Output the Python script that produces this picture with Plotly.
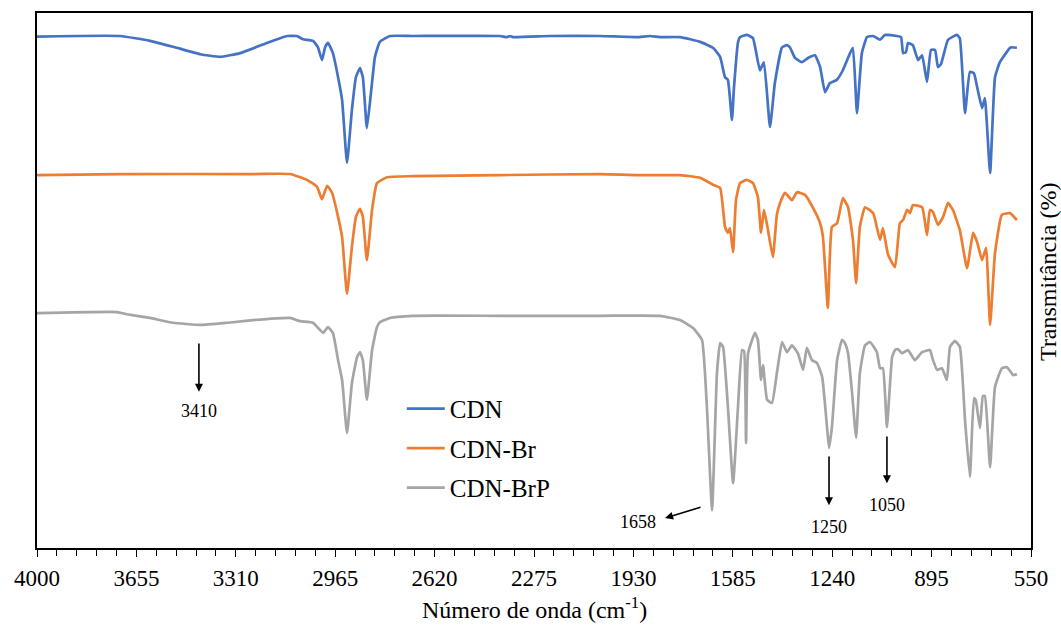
import plotly.graph_objects as go

# ---------------- data ----------------
series_names = ["CDN", "CDN-Br", "CDN-BrP"]
series_colors = ["#4472C4", "#ED7D31", "#A5A5A5"]

cdn_wn = [4000, 3712, 3608, 3528, 3434, 3365, 3295, 3202, 3132, 3098, 3077, 3042, 3025, 3011, 3000,
          2990, 2973, 2955, 2941, 2924, 2907, 2893, 2879, 2869, 2855, 2841, 2827, 2810, 2775, 2695,
          2393, 2369, 2358, 2348, 2219, 2046, 1918, 1872, 1838, 1768, 1698, 1654, 1629, 1612, 1602,
          1588, 1581, 1567, 1560, 1536, 1515, 1491, 1477, 1456, 1439, 1414, 1397, 1387, 1369, 1345,
          1324, 1300, 1282, 1265, 1248, 1224, 1203, 1178, 1168, 1154, 1137, 1119, 1098, 1074, 1057,
          1015, 1001, 994, 984, 977, 960, 942, 928, 911, 897, 883, 873, 862, 838, 807,
          797, 779, 762, 748, 737, 720, 710, 692, 675, 658, 623, 616, 599]
cdn_t = [95.6, 95.7, 94.8, 93.7, 92.3, 91.8, 92.5, 94.4, 95.7, 95.7, 95.1, 94.8, 93.6, 91.2, 93.6,
         94.4, 92.5, 88.0, 83.7, 72.0, 81.9, 88.0, 89.7, 88.0, 78.5, 85.0, 91.8, 94.6, 95.7, 95.7,
         95.7, 95.5, 95.7, 95.5, 95.7, 95.7, 95.5, 95.7, 95.5, 95.5, 94.6, 93.5, 91.8, 88.0, 87.5,
         80.0, 86.0, 94.5, 95.5, 95.9, 95.3, 89.3, 90.8, 78.7, 86.9, 93.6, 94.0, 93.6, 91.6, 90.8,
         91.6, 92.1, 89.9, 85.2, 86.9, 87.5, 89.3, 92.5, 93.5, 81.3, 92.5, 95.5, 95.7, 95.0, 95.9,
         95.7, 95.5, 92.5, 92.7, 94.4, 94.0, 91.2, 92.1, 87.1, 93.1, 93.1, 89.9, 90.5, 95.0, 95.9,
         95.3, 81.3, 89.0, 88.7, 86.2, 82.2, 84.1, 70.1, 88.0, 90.8, 93.5, 93.6, 93.5]

cdnbr_wn = [4000, 3712, 3250, 3122, 3063, 3028, 3011, 2993, 2976, 2955, 2941, 2924, 2907, 2893, 2879,
            2869, 2855, 2837, 2820, 2785, 2695, 2393, 2046, 1918, 1838, 1768, 1698, 1654, 1629, 1612,
            1602, 1595, 1584, 1574, 1560, 1536, 1515, 1498, 1487, 1477, 1466, 1446, 1432, 1421, 1404,
            1380, 1362, 1334, 1307, 1282, 1272, 1255, 1241, 1223, 1203, 1185, 1168, 1157, 1144, 1126,
            1098, 1074, 1064, 1046, 1022, 1005, 994, 980, 970, 960, 928, 911, 901, 890, 873,
            855, 838, 821, 797, 772, 751, 737, 720, 706, 692, 675, 651, 623, 616, 599]
cdnbr_t = [69.7, 69.9, 69.9, 69.9, 68.8, 67.5, 65.2, 67.7, 66.4, 61.9, 58.1, 47.5, 56.3, 61.9, 63.4,
           61.9, 53.8, 63.2, 68.2, 69.3, 69.5, 69.7, 69.9, 69.7, 69.7, 69.7, 69.2, 67.9, 67.3, 60.0,
           58.9, 59.8, 55.3, 65.0, 68.2, 68.8, 68.2, 65.6, 58.9, 63.2, 60.4, 54.4, 62.3, 64.5, 66.4,
           65.0, 66.5, 66.0, 63.6, 60.7, 58.1, 44.9, 60.0, 60.7, 65.4, 63.7, 57.6, 49.5, 60.0, 63.7,
           62.6, 57.6, 59.8, 54.8, 52.5, 60.7, 61.3, 63.2, 62.6, 64.1, 63.7, 58.5, 63.2, 62.8, 60.4,
           61.9, 64.5, 63.2, 59.4, 52.3, 58.9, 57.2, 53.8, 56.1, 41.7, 55.1, 62.3, 62.6, 62.3, 61.3]

cdnbrp_wn = [4000, 3722, 3688, 3608, 3528, 3434, 3341, 3250, 3122, 3087, 3042, 3007, 2990, 2973, 2955,
             2941, 2924, 2907, 2889, 2879, 2869, 2855, 2837, 2820, 2810, 2775, 2695, 2393, 2046, 1838,
             1768, 1723, 1692, 1675, 1657, 1640, 1629, 1619, 1602, 1584, 1567, 1553, 1546, 1539, 1532,
             1508, 1498, 1487, 1480, 1466, 1449, 1432, 1414, 1397, 1380, 1359, 1341, 1328, 1310, 1293,
             1275, 1258, 1251, 1241, 1223, 1206, 1196, 1185, 1171, 1157, 1144, 1126, 1109, 1085, 1074,
             1064, 1050, 1032, 1022, 1012, 998, 977, 953, 928, 901, 890, 876, 859, 842, 831,
             814, 797, 779, 762, 748, 742, 727, 717, 710, 692, 675, 651, 633, 612, 599]
cdnbrp_t = [43.9, 44.1, 43.7, 43.0, 42.1, 41.7, 42.1, 42.6, 43.0, 42.4, 42.1, 40.2, 41.3, 40.2, 35.1,
            31.4, 21.5, 30.8, 35.7, 36.6, 35.1, 27.7, 37.0, 41.3, 42.2, 43.0, 43.4, 43.4, 43.4, 43.4,
            42.6, 41.1, 38.9, 26.4, 7.1, 32.7, 38.3, 37.6, 26.4, 12.1, 26.4, 37.0, 36.8, 19.6, 36.4,
            40.2, 38.9, 31.4, 34.2, 27.7, 27.1, 32.7, 38.5, 36.6, 37.9, 36.4, 33.3, 37.4, 35.1, 34.6,
            32.0, 22.6, 18.7, 22.6, 35.1, 38.9, 38.3, 36.4, 29.0, 20.6, 32.7, 37.9, 38.5, 36.6, 33.6,
            33.6, 22.6, 35.7, 37.0, 37.2, 36.4, 37.0, 35.1, 36.6, 37.0, 35.1, 33.3, 33.6, 31.4, 37.6,
            38.7, 37.6, 23.9, 13.3, 28.0, 27.7, 22.4, 28.4, 28.4, 15.1, 30.1, 33.6, 33.8, 32.3, 32.5]

tick_vals = [4000, 3655, 3310, 2965, 2620, 2275, 1930, 1585, 1240, 895, 550]
tick_text = [str(v) for v in tick_vals]

# peak labels with arrow tail / head and label positions (wavenumber, transmittance)
peak_labels = ["3410", "1658", "1250", "1050"]
arrow_tail_wn = [3438, 1692, 1251, 1050]
arrow_tail_t = [38.5, 7.7, 17.4, 21.1]
arrow_head_wn = [3438, 1820, 1251, 1050]
arrow_head_t = [29.2, 5.6, 8.0, 12.1]
label_wn = [3438, 1914, 1251, 1050]
label_t = [25.6, 4.9, 3.9, 8.0]

SERIF = "Liberation Serif, Times New Roman, serif"

fig = go.Figure()
all_wn = [cdn_wn, cdnbr_wn, cdnbrp_wn]
all_t = [cdn_t, cdnbr_t, cdnbrp_t]
for i, name in enumerate(series_names):
    fig.add_trace(go.Scatter(
        x=all_wn[i], y=all_t[i], mode="lines", name=name,
        legendgroup=name,
        line=dict(color=series_colors[i], width=2.7, shape="spline", smoothing=0.4),
    ))

for i, lab in enumerate(peak_labels):
    fig.add_annotation(
        x=arrow_head_wn[i], y=arrow_head_t[i], ax=arrow_tail_wn[i], ay=arrow_tail_t[i],
        xref="x", yref="y", axref="x", ayref="y", text="", showarrow=True,
        arrowhead=2, arrowsize=1, arrowwidth=1.6, arrowcolor="black", standoff=0, startstandoff=0,
    )
    fig.add_annotation(
        x=label_wn[i], y=label_t[i], xref="x", yref="y", text=lab, showarrow=False,
        font=dict(family=SERIF, size=18, color="black"), xanchor="center", yanchor="middle",
    )

fig.add_annotation(
    text="Transmitância (%)", textangle=-90, xref="paper", yref="paper", x=1, y=0.516,
    xanchor="center", yanchor="middle", xshift=17, showarrow=False,
    font=dict(family=SERIF, size=24, color="black"),
)
fig.add_annotation(
    text="Número de onda (cm<sup>-1</sup>)", xref="paper", yref="paper", x=0.5, y=0,
    xanchor="center", yanchor="top", yshift=-43, showarrow=False,
    font=dict(family=SERIF, size=24, color="black"),
)

fig.update_xaxes(
    range=[4000, 550], tickmode="array", tickvals=tick_vals, ticktext=tick_text,
    ticks="outside", ticklen=7, tickwidth=1.3, tickcolor="black",
    minor=dict(dtick=69, tick0=4000, ticks="outside", ticklen=6, tickwidth=1.3, tickcolor="black"),
    showline=True, linecolor="black", linewidth=1.5, mirror=True,
    showgrid=False, zeroline=False, ticklabelstandoff=2,
    tickfont=dict(family=SERIF, size=23, color="black"),
)
fig.update_yaxes(
    range=[0, 100], showticklabels=False, ticks="", showline=True, linecolor="black",
    linewidth=1.5, mirror=True, showgrid=False, zeroline=False,
)

fig.update_layout(
    width=1061, height=625,
    margin=dict(l=37, r=30, t=13, b=77),
    paper_bgcolor="white", plot_bgcolor="white",
    showlegend=True,
    legend=dict(
        x=0.367, y=0.303, xanchor="left", yanchor="top",
        font=dict(family=SERIF, size=25, color="black"),
        bgcolor="rgba(0,0,0,0)", traceorder="grouped", tracegroupgap=4, itemwidth=38,
    ),
)

# remove the default page margin so the 1061x625 figure fills the window exactly
fig.write_html(
    "out.html",
    config={"displayModeBar": False},
    post_script="document.body.style.margin='0';document.body.style.overflow='hidden';",
)
